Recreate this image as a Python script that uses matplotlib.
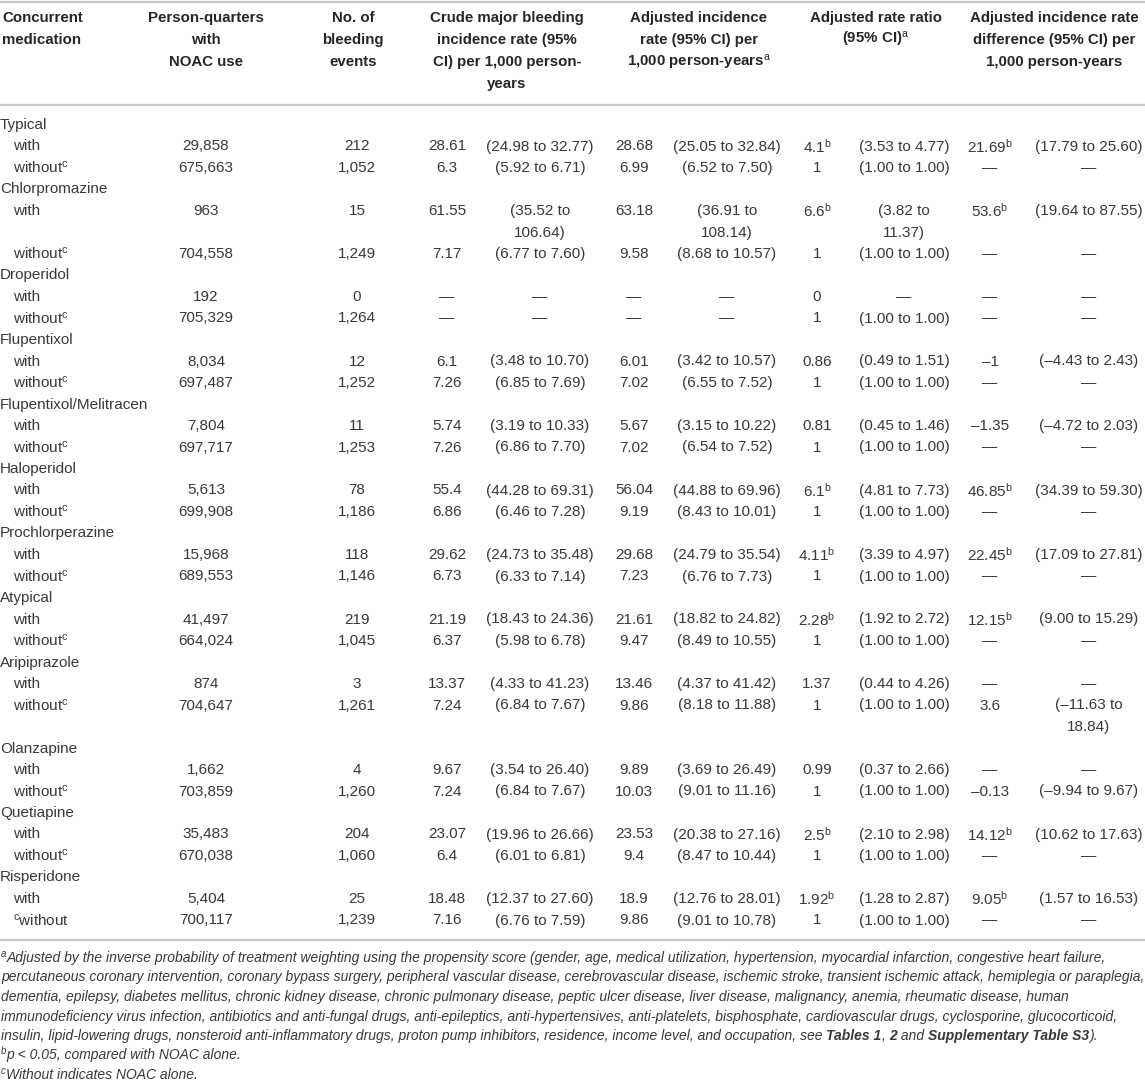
import matplotlib
matplotlib.use("Agg")
import matplotlib.pyplot as plt

# ---- table data (strings as printed; "^x" marks a superscript) ----
meds = ["Typical", "Chlorpromazine", "Droperidol", "Flupentixol", "Flupentixol/Melitracen",
        "Haloperidol", "Prochlorperazine", "Atypical", "Aripiprazole", "Olanzapine",
        "Quetiapine", "Risperidone"]
pq_with = ["29,858", "963", "192", "8,034", "7,804", "5,613", "15,968", "41,497", "874",
           "1,662", "35,483", "5,404"]
pq_without = ["675,663", "704,558", "705,329", "697,487", "697,717", "699,908", "689,553",
              "664,024", "704,647", "703,859", "670,038", "700,117"]
ev_with = ["212", "15", "0", "12", "11", "78", "118", "219", "3", "4", "204", "25"]
ev_without = ["1,052", "1,249", "1,264", "1,252", "1,253", "1,186", "1,146", "1,045", "1,261",
              "1,260", "1,060", "1,239"]
crude_with = ["28.61", "61.55", "—", "6.1", "5.74", "55.4", "29.62", "21.19", "13.37", "9.67",
              "23.07", "18.48"]
crude_ci_with = ["(24.98 to 32.77)", "(35.52 to\n106.64)", "—", "(3.48 to 10.70)",
                 "(3.19 to 10.33)", "(44.28 to 69.31)", "(24.73 to 35.48)", "(18.43 to 24.36)",
                 "(4.33 to 41.23)", "(3.54 to 26.40)", "(19.96 to 26.66)", "(12.37 to 27.60)"]
crude_without = ["6.3", "7.17", "—", "7.26", "7.26", "6.86", "6.73", "6.37", "7.24", "7.24",
                 "6.4", "7.16"]
crude_ci_without = ["(5.92 to 6.71)", "(6.77 to 7.60)", "—", "(6.85 to 7.69)", "(6.86 to 7.70)",
                    "(6.46 to 7.28)", "(6.33 to 7.14)", "(5.98 to 6.78)", "(6.84 to 7.67)",
                    "(6.84 to 7.67)", "(6.01 to 6.81)", "(6.76 to 7.59)"]
adj_with = ["28.68", "63.18", "—", "6.01", "5.67", "56.04", "29.68", "21.61", "13.46", "9.89",
            "23.53", "18.9"]
adj_ci_with = ["(25.05 to 32.84)", "(36.91 to\n108.14)", "—", "(3.42 to 10.57)",
               "(3.15 to 10.22)", "(44.88 to 69.96)", "(24.79 to 35.54)", "(18.82 to 24.82)",
               "(4.37 to 41.42)", "(3.69 to 26.49)", "(20.38 to 27.16)", "(12.76 to 28.01)"]
adj_without = ["6.99", "9.58", "—", "7.02", "7.02", "9.19", "7.23", "9.47", "9.86", "10.03",
               "9.4", "9.86"]
adj_ci_without = ["(6.52 to 7.50)", "(8.68 to 10.57)", "—", "(6.55 to 7.52)", "(6.54 to 7.52)",
                  "(8.43 to 10.01)", "(6.76 to 7.73)", "(8.49 to 10.55)", "(8.18 to 11.88)",
                  "(9.01 to 11.16)", "(8.47 to 10.44)", "(9.01 to 10.78)"]
ratio_with = ["4.1^b", "6.6^b", "0", "0.86", "0.81", "6.1^b", "4.11^b", "2.28^b", "1.37", "0.99",
              "2.5^b", "1.92^b"]
ratio_ci_with = ["(3.53 to 4.77)", "(3.82 to\n11.37)", "—", "(0.49 to 1.51)", "(0.45 to 1.46)",
                 "(4.81 to 7.73)", "(3.39 to 4.97)", "(1.92 to 2.72)", "(0.44 to 4.26)",
                 "(0.37 to 2.66)", "(2.10 to 2.98)", "(1.28 to 2.87)"]
ratio_without = ["1"] * 12
ratio_ci_without = ["(1.00 to 1.00)"] * 12
diff_with = ["21.69^b", "53.6^b", "—", "–1", "–1.35", "46.85^b", "22.45^b", "12.15^b", "—", "—",
             "14.12^b", "9.05^b"]
diff_ci_with = ["(17.79 to 25.60)", "(19.64 to 87.55)", "—", "(–4.43 to 2.43)",
                "(–4.72 to 2.03)", "(34.39 to 59.30)", "(17.09 to 27.81)", "(9.00 to 15.29)",
                "—", "—", "(10.62 to 17.63)", "(1.57 to 16.53)"]
diff_without = ["—"] * 8 + ["3.6", "–0.13", "—", "—"]
diff_ci_without = ["—"] * 8 + ["(–11.63 to\n18.84)", "(–9.94 to 9.67)", "—", "—"]
without_labels = ["without^c"] * 11 + ["^cwithout"]

headers = [
    ["Concurrent", "medication"],
    ["Person-quarters", "with", "NOAC use"],
    ["No. of", "bleeding", "events"],
    ["Crude major bleeding", "incidence rate (95%", "CI) per 1,000 person-", "years"],
    ["Adjusted incidence", "rate (95% CI) per", "1,000 person-years^a"],
    ["Adjusted rate ratio", "(95% CI)^a"],
    ["Adjusted incidence rate", "difference (95% CI) per", "1,000 person-years"],
]

footnotes = [
    [("^a", "i"), ("Adjusted by the inverse probability of treatment weighting using the propensity score (gender, age, medical utilization, hypertension, myocardial infarction, congestive heart failure,", "i")],
    [("percutaneous coronary intervention, coronary bypass surgery, peripheral vascular disease, cerebrovascular disease, ischemic stroke, transient ischemic attack, hemiplegia or paraplegia,", "i")],
    [("dementia, epilepsy, diabetes mellitus, chronic kidney disease, chronic pulmonary disease, peptic ulcer disease, liver disease, malignancy, anemia, rheumatic disease, human", "i")],
    [("immunodeficiency virus infection, antibiotics and anti-fungal drugs, anti-epileptics, anti-hypertensives, anti-platelets, bisphosphate, cardiovascular drugs, cyclosporine, glucocorticoid,", "i")],
    [("insulin, lipid-lowering drugs, nonsteroid anti-inflammatory drugs, proton pump inhibitors, residence, income level, and occupation, see ", "i"),
     ("Tables 1", "bi"), (", ", "i"), ("2", "bi"), (" and ", "i"), ("Supplementary Table S3", "bi"), (").", "i")],
    [("^b", "i"), ("p < 0.05, compared with NOAC alone.", "i")],
    [("^c", "i"), ("Without indicates NOAC alone.", "i")],
]

# ---- fonts ----
body_font = "Liberation Sans"
plt.rcParams["font.family"] = [body_font, "DejaVu Sans"]
plt.rcParams["mathtext.fontset"] = "custom"
plt.rcParams["mathtext.rm"] = body_font
plt.rcParams["mathtext.it"] = body_font + ":italic"
plt.rcParams["mathtext.bf"] = body_font + ":bold"

TXT = "#383838"
HEAD = "#262626"
RULE = "#c9c9c9"
FS = 11
HFS = 10.8


def fmt(s):
    # turn "4.1^b" into mathtext superscript
    if "^" in s:
        base, rest = s.split("^")
        return base + r"$^{\mathrm{" + rest[0] + "}}$" + rest[1:]
    return s


fig = plt.figure(figsize=(11.45, 10.81), dpi=100)
ax = fig.add_axes([0, 0, 1, 1])
ax.set_xlim(0, 1145)
ax.set_ylim(1081, 0)
ax.axis("off")

# horizontal rules
for y in [1.5, 105, 940]:
    ax.plot([0, 1145], [y, y], color=RULE, lw=1.6, solid_capstyle="butt")

# header
head_x = [2, 206, 353, 507, 699, 876, 1054]
head_y0, head_dy = 18, 22
for i, lines in enumerate(headers):
    for j, line in enumerate(lines):
        ax.text(head_x[i], head_y0 + j * head_dy, fmt(line), fontsize=HFS, fontweight="bold",
                color=HEAD, ha="left" if i == 0 else "center", va="center")

# body
col_x = [206, 357, 447, 540, 634, 727, 817, 904, 990, 1089]
y = 125
dy = 21.5
for g, med in enumerate(meds):
    ax.text(0, y, med, fontsize=FS, color=TXT, ha="left", va="center")
    y += dy
    for label, cells in [("with", [pq_with, ev_with, crude_with, crude_ci_with, adj_with,
                                   adj_ci_with, ratio_with, ratio_ci_with, diff_with, diff_ci_with]),
                         (without_labels[g], [pq_without, ev_without, crude_without,
                                              crude_ci_without, adj_without, adj_ci_without,
                                              ratio_without, ratio_ci_without, diff_without,
                                              diff_ci_without])]:
        ax.text(13, y, fmt(label), fontsize=FS, color=TXT, ha="left", va="center")
        nlines = 1
        for k, col in enumerate(cells):
            parts = col[g].split("\n")
            nlines = max(nlines, len(parts))
            for m, p in enumerate(parts):
                ax.text(col_x[k], y + m * dy, fmt(p), fontsize=FS, color=TXT,
                        ha="center", va="center")
        y += dy * nlines

# footnotes with mixed styles; size chosen so the longest line fits the table width
fig.canvas.draw()
renderer = fig.canvas.get_renderer()


def seg_width(seg, style, size):
    if seg.startswith("^"):
        t = ax.text(0, 0, seg[1:], fontsize=size * 0.7, style="italic")
    else:
        t = ax.text(0, 0, seg, fontsize=size, style="italic",
                    fontweight="bold" if "b" in style else "normal")
    w = t.get_window_extent(renderer=renderer).width
    t.remove()
    return w


widest = max(sum(seg_width(s, st, 10) for s, st in line) for line in footnotes)
NFS = 10 * 1139 / widest

fy = 958
for line in footnotes:
    x = 1
    for seg, style in line:
        if seg.startswith("^"):
            t = ax.text(x, fy - 4, seg[1:], fontsize=NFS * 0.7, color=TXT, va="center",
                        ha="left", style="italic")
        else:
            t = ax.text(x, fy, seg, fontsize=NFS, color=TXT, va="center", ha="left",
                        style="italic", fontweight="bold" if "b" in style else "normal")
        x += t.get_window_extent(renderer=renderer).width
    fy += 19.5

fig.savefig("out.png", dpi=100)
